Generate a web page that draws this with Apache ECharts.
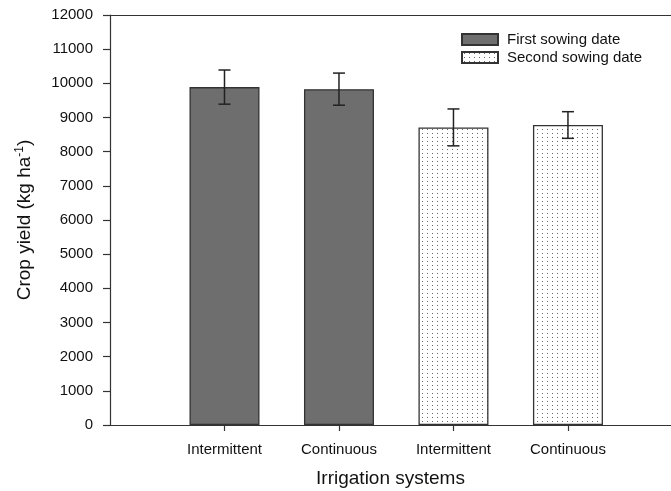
<!DOCTYPE html>
<html>
<head>
<meta charset="utf-8">
<script src="https://cdn.jsdelivr.net/npm/echarts@6/dist/echarts.min.js"></script>
<style>
  html, body { margin: 0; padding: 0; background: #fff; overflow: hidden; }
  #chart { width: 671px; height: 491px; }
</style>
</head>
<body>
<div id="chart"></div>
<script>
// Crop yield by irrigation system and sowing date
const categories = ['Intermittent', 'Continuous', 'Intermittent', 'Continuous'];
const firstSowingYield = [9890, 9830];
const firstSowingErr = [500, 470];
const secondSowingYield = [8710, 8780];
const secondSowingErr = [540, 390];
const yTicks = [0, 1000, 2000, 3000, 4000, 5000, 6000, 7000, 8000, 9000, 10000, 11000, 12000];

// First sowing date occupies slots 1-2, second sowing date slots 3-4
const firstData = firstSowingYield.map((v, i) => [i + 1, v]);
const secondData = secondSowingYield.map((v, i) => [i + 3, v]);
const errData = firstSowingYield.map((v, i) => [i + 1, v - firstSowingErr[i], v + firstSowingErr[i]])
  .concat(secondSowingYield.map((v, i) => [i + 3, v - secondSowingErr[i], v + secondSowingErr[i]]));

// Stippled fill for the second sowing date
function dotPattern() {
  const c = document.createElement('canvas');
  c.width = 5; c.height = 4;
  const ctx = c.getContext('2d');
  ctx.fillStyle = '#ffffff';
  ctx.fillRect(0, 0, 5, 4);
  ctx.fillStyle = '#6a6a6a';
  ctx.fillRect(2, 1, 1, 1);
  return c;
}

const FONT = 'Liberation Sans, Arial, sans-serif';
const chart = echarts.init(document.getElementById('chart'));
const axisLineStyle = { color: '#333', width: 1.2 };
const labelFont = { fontFamily: FONT, fontSize: 15, color: '#111' };

chart.setOption({
  animation: false,
  grid: { left: 110, right: 0, top: 15, bottom: 66, containLabel: false, outerBoundsMode: 'none' },
  legend: {
    left: 456, top: 27, orient: 'vertical', padding: 5,
    itemWidth: 36, itemHeight: 11, itemGap: 3,
    icon: 'rect',
    textStyle: { fontFamily: FONT, fontSize: 15, color: '#111', padding: [0, 0, 0, 4] },
    data: ['First sowing date', 'Second sowing date']
  },
  xAxis: [{
    type: 'value', min: 0, max: 4.9,
    name: 'Irrigation systems', nameLocation: 'middle', nameGap: 44,
    nameTextStyle: { fontFamily: FONT, fontSize: 19, color: '#111' },
    axisLine: { show: true, onZero: false, lineStyle: axisLineStyle },
    axisTick: { show: true, length: 6, lineStyle: axisLineStyle, customValues: [1, 2, 3, 4] },
    axisLabel: Object.assign({ margin: 17, customValues: [1, 2, 3, 4], formatter: v => categories[Math.round(v) - 1] || '' }, labelFont),
    splitLine: { show: false }
  }, {
    type: 'value', min: 0, max: 4.9, position: 'top',
    axisLine: { show: true, onZero: false, lineStyle: axisLineStyle },
    axisTick: { show: false }, axisLabel: { show: false }, splitLine: { show: false }
  }],
  yAxis: {
    type: 'value', min: 0, max: 12000, interval: 1000,
    name: '{m|Crop yield (kg ha}{s|-1}{m|)}', nameLocation: 'middle', nameGap: 75, nameRotate: 90,
    nameTextStyle: {
      rich: {
        m: { fontFamily: FONT, fontSize: 19, color: '#111' },
        s: { fontFamily: FONT, fontSize: 12, color: '#111', verticalAlign: 'top', padding: [0, 0, 9, 0] }
      }
    },
    axisLine: { show: true, lineStyle: axisLineStyle },
    axisTick: { show: true, length: 7, lineStyle: axisLineStyle },
    axisLabel: Object.assign({ margin: 17, formatter: v => (yTicks.indexOf(v) >= 0 ? String(v) : '') }, labelFont),
    splitLine: { show: false }
  },
  series: [{
    name: 'First sowing date', type: 'bar', data: firstData,
    barWidth: 70, barGap: '-100%',
    itemStyle: { color: '#6e6e6e', borderColor: '#333', borderWidth: 1.3 }
  }, {
    name: 'Second sowing date', type: 'bar', data: secondData,
    barWidth: 70, barGap: '-100%',
    itemStyle: { color: { image: dotPattern(), repeat: 'repeat' }, borderColor: '#333', borderWidth: 1.3 }
  }, {
    type: 'custom', data: errData, z: 10,
    encode: { x: 0, y: [1, 2] },
    renderItem: function (params, api) {
      const x = api.value(0);
      const lo = api.coord([x, api.value(1)]);
      const hi = api.coord([x, api.value(2)]);
      const cap = 6;
      const style = { stroke: '#222', lineWidth: 1.5 };
      return {
        type: 'group',
        children: [
          { type: 'line', shape: { x1: lo[0], y1: lo[1], x2: hi[0], y2: hi[1] }, style: style },
          { type: 'line', shape: { x1: lo[0] - cap, y1: lo[1], x2: lo[0] + cap, y2: lo[1] }, style: style },
          { type: 'line', shape: { x1: hi[0] - cap, y1: hi[1], x2: hi[0] + cap, y2: hi[1] }, style: style }
        ]
      };
    }
  }]
});
</script>
</body>
</html>
